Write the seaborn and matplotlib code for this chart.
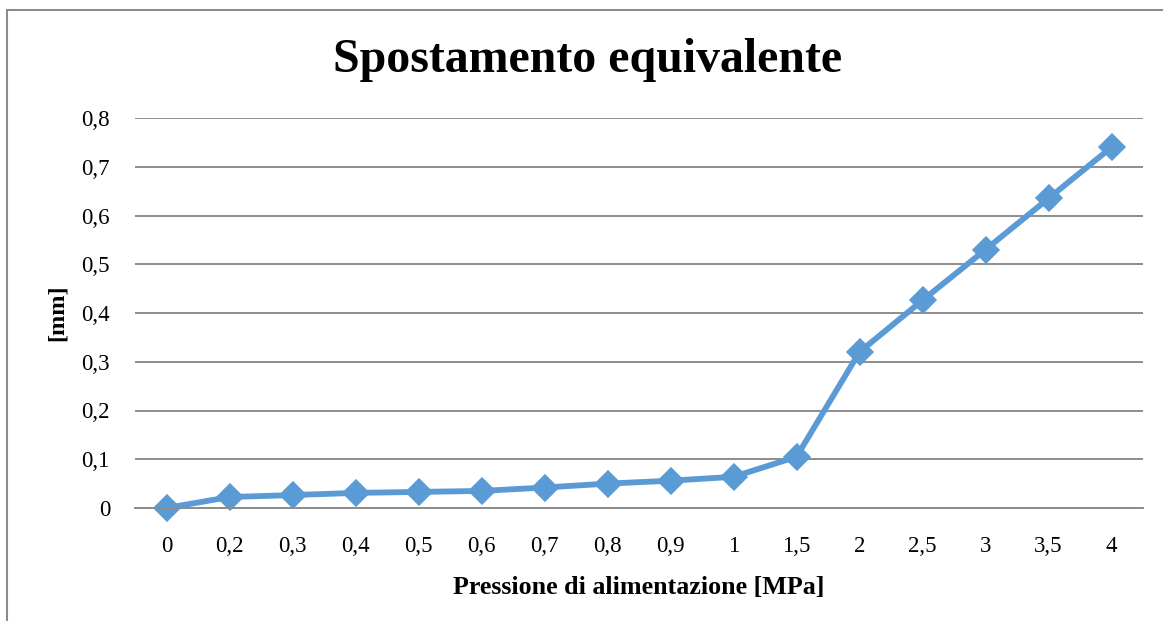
import matplotlib
matplotlib.use("Agg")
import matplotlib.pyplot as plt
from matplotlib.patches import Rectangle
import seaborn as sns

# Supply pressure categories [MPa] and equivalent displacement [mm]
pressure_labels = ["0", "0,2", "0,3", "0,4", "0,5", "0,6", "0,7", "0,8", "0,9",
                   "1", "1,5", "2", "2,5", "3", "3,5", "4"]
displacement = [0.0, 0.0225, 0.0265, 0.031, 0.033, 0.035, 0.042, 0.050, 0.056,
                0.064, 0.105, 0.320, 0.426, 0.530, 0.635, 0.740]
y_ticks = [0.0, 0.1, 0.2, 0.3, 0.4, 0.5, 0.6, 0.7, 0.8]
y_tick_labels = ["0", "0,1", "0,2", "0,3", "0,4", "0,5", "0,6", "0,7", "0,8"]

sns.set_theme(style="white")
plt.rcParams["font.family"] = ["Liberation Serif", "DejaVu Serif"]
plt.rcParams["text.color"] = "black"
plt.rcParams["axes.labelcolor"] = "black"

fig = plt.figure(figsize=(11.63, 6.21), dpi=100)
ax = fig.add_axes([135 / 1163, 1 - 508 / 621, 1008 / 1163, 390 / 621])

line_color = "#5B9BD5"
sns.pointplot(x=pressure_labels, y=displacement, ax=ax, color=line_color,
              markers="D", markersize=11, linewidth=4.2, order=pressure_labels)
for coll in ax.collections + ax.lines:
    coll.set_clip_on(False)

ax.set_xlim(-0.5, len(pressure_labels) - 0.5)
ax.set_ylim(0, 0.8)
ax.set_yticks(y_ticks)
ax.set_yticklabels(y_tick_labels)
ax.yaxis.grid(True, color="#8c8c8c", linewidth=1.4)
ax.xaxis.grid(False)
ax.set_axisbelow(True)
for side in ["left", "right", "top"]:
    ax.spines[side].set_visible(False)
ax.spines["bottom"].set_color("#8c8c8c")
ax.spines["bottom"].set_linewidth(1.4)
ax.tick_params(axis="both", length=0, labelsize=16.5, colors="black")
ax.tick_params(axis="y", pad=18)
ax.tick_params(axis="x", pad=20)

ax.set_xlabel("Pressione di alimentazione [MPa]", fontsize=18.7, fontweight="bold",
              labelpad=14)
ax.set_ylabel("[mm]", fontsize=17.5, fontweight="bold", labelpad=10)

fig.text(588 / 1163, 1 - 60 / 621, "Spostamento equivalente", ha="center",
         va="center", fontsize=34.5, fontweight="bold")

# chart frame
fig.patches.append(Rectangle((7 / 1163, -0.1), 1.2, 1.1 - 10 / 621,
                             transform=fig.transFigure, fill=False,
                             edgecolor="#8c8c8c", linewidth=1.5))

fig.savefig("out.png", dpi=100)
